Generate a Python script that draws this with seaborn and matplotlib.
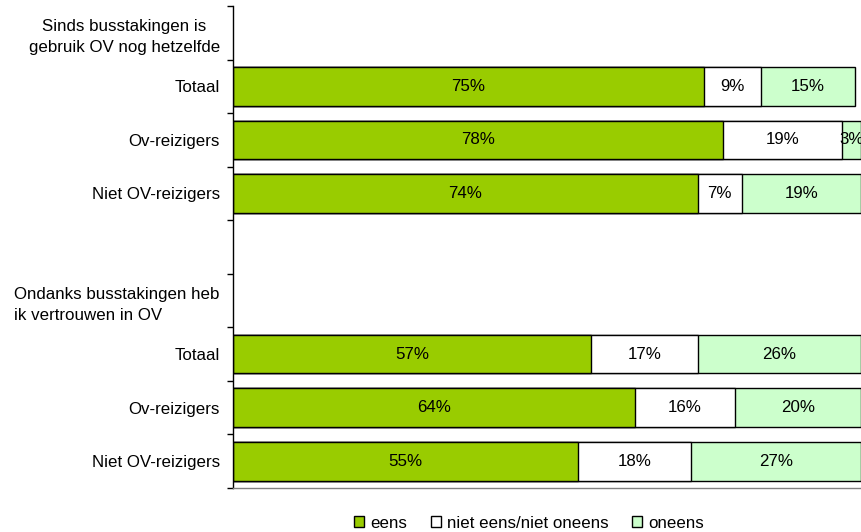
import pandas as pd
import matplotlib
matplotlib.use("Agg")
import matplotlib.pyplot as plt
import seaborn as sns
from matplotlib.patches import Patch

# category slots from top to bottom (header rows and the blank row have no bars)
slots = ["h1", "t1", "o1", "n1", "gap", "h2", "t2", "o2", "n2"]
slot_labels = ["Sinds busstakingen is\ngebruik OV nog hetzelfde", "Totaal", "Ov-reizigers",
               "Niet OV-reizigers", "", "Ondanks busstakingen heb\nik vertrouwen in OV",
               "Totaal", "Ov-reizigers", "Niet OV-reizigers"]

rows = ["t1", "o1", "n1", "t2", "o2", "n2"]
eens = [75, 78, 74, 57, 64, 55]
neutraal = [9, 19, 7, 17, 16, 18]
oneens = [15, 3, 19, 26, 20, 27]

series = ["eens", "niet eens/niet oneens", "oneens"]
colors = ["#99CC00", "#FFFFFF", "#CCFFCC"]

df = pd.DataFrame({"slot": rows, "eens": eens, "neutraal": neutraal, "oneens": oneens})
df["c1"] = df["eens"]
df["c2"] = df["eens"] + df["neutraal"]
df["c3"] = df["c2"] + df["oneens"]

sns.set_style("white")
plt.rcParams["font.family"] = ["Liberation Sans", "DejaVu Sans"]
plt.rcParams["text.color"] = "black"
plt.rcParams["ytick.color"] = "black"
plt.rcParams["ytick.labelcolor"] = "black"
fs = 12.2

fig = plt.figure(figsize=(8.61, 5.32), dpi=100)
ax = fig.add_axes([233 / 861, 44 / 532, 628 / 861, 482 / 532])

# draw cumulative bars back to front so they look stacked
for col, color in zip(["c3", "c2", "c1"], colors[::-1]):
    sns.barplot(data=df, y="slot", x=col, order=slots, orient="h", color=color,
                edgecolor="black", linewidth=1, width=0.72, saturation=1, ax=ax)

# segment labels
for i, r in df.iterrows():
    y = slots.index(r["slot"])
    starts = [0, r["c1"], r["c2"]]
    vals = [r["eens"], r["neutraal"], r["oneens"]]
    for s, v in zip(starts, vals):
        ax.text(s + v / 2, y, f"{v}%", ha="center", va="center", fontsize=fs, color="black")

ax.set_xlim(0, 100)
ax.set_ylim(len(slots) - 0.5, -0.5)
ax.set_xlabel("")
ax.set_ylabel("")
ax.set_xticks([])

ax.set_yticks(range(len(slots)))
ax.set_yticklabels(slot_labels, fontsize=fs, color="black")
ax.tick_params(axis="y", which="major", length=0, pad=9.5)
for lab, ma in zip(ax.get_yticklabels(), ["center", "right", "right", "right", "right",
                                           "left", "right", "right", "right"]):
    lab.set_multialignment(ma)
    lab.set_linespacing(1.5)
ax.set_yticks([i - 0.5 for i in range(len(slots) + 1)], minor=True)
ax.tick_params(axis="y", which="minor", length=4, width=1, color="black", direction="out", left=True)

for side in ["top", "right"]:
    ax.spines[side].set_visible(False)
ax.spines["left"].set_color("black")
ax.spines["left"].set_linewidth(1)
ax.spines["bottom"].set_color("#808080")
ax.spines["bottom"].set_linewidth(1)

handles = [Patch(facecolor=c, edgecolor="black", linewidth=1) for c in colors]
leg = fig.legend(handles, series, loc="center", bbox_to_anchor=(529 / 861, 1 - 523 / 532), ncol=3,
                 frameon=False, fontsize=fs, handlelength=0.6, handleheight=0.6,
                 handletextpad=0.35, columnspacing=1.4, borderaxespad=0)
for t in leg.get_texts():
    t.set_color("black")

fig.savefig("out.png", dpi=100)
